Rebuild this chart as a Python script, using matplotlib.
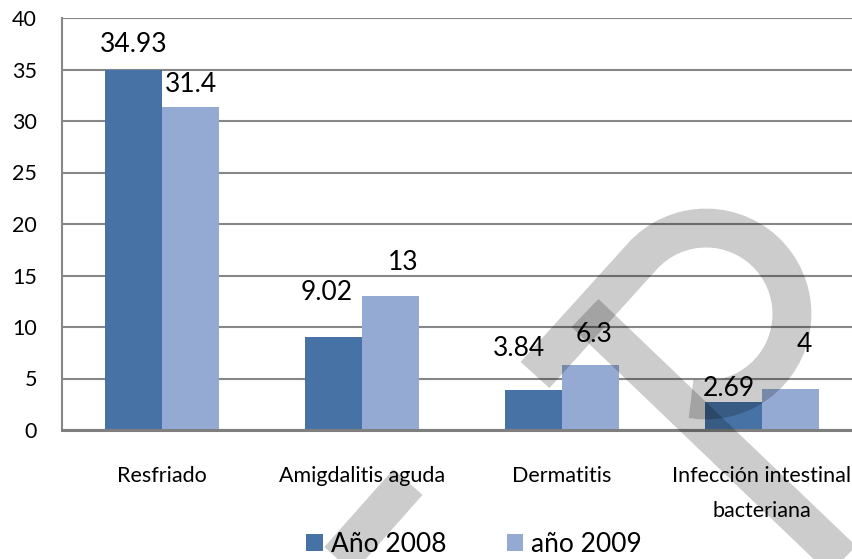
import matplotlib.pyplot as plt
import numpy as np
from matplotlib.path import Path
from matplotlib.patches import PathPatch
import matplotlib.transforms as mtransforms

plt.rcParams['font.family'] = ['Lato', 'DejaVu Sans']

# datos
categorias = ["Resfriado", "Amigdalitis aguda", "Dermatitis", "Infección intestinal\nbacteriana"]
anio_2008 = [34.93, 9.02, 3.84, 2.69]
anio_2009 = [31.4, 13, 6.3, 4]
series = ["Año 2008", "año 2009"]

# desplazamiento de las etiquetas (pixeles), como en el original
off_2008 = [(0, 26), (-7, 45), (-14, 42), (-5, 14)]
off_2009 = [(1, 22), (13, 34), (4, 31), (14, 44)]

c1 = "#4672A6"
c2 = "#95AAD2"
gris = "#878787"

fig = plt.figure(figsize=(8.53, 5.59), dpi=100)
W, H = 853, 559
ax = fig.add_axes([62 / W, 129 / H, 800 / W, 412 / H])

x = np.arange(len(categorias))
w = 0.285
b1 = ax.bar(x - w / 2, anio_2008, w, color=c1, label=series[0], zorder=2)
b2 = ax.bar(x + w / 2, anio_2009, w, color=c2, label=series[1], zorder=2)

for xi, v, o in zip(x - w / 2, anio_2008, off_2008):
    ax.annotate(f"{v:g}", (xi, v), xytext=o, textcoords="offset pixels",
                ha="center", va="center", fontsize=19, zorder=5)
for xi, v, o in zip(x + w / 2, anio_2009, off_2009):
    ax.annotate(f"{v:g}", (xi, v), xytext=o, textcoords="offset pixels",
                ha="center", va="center", fontsize=19, zorder=5)

ax.set_xlim(-0.5, 3.5)
ax.set_ylim(0, 40)
ax.set_yticks(range(0, 41, 5))
ax.set_xticks(x)
ax.set_xticklabels(categorias, fontsize=15.5, linespacing=1.9)
ax.tick_params(axis="y", length=0, pad=18, labelsize=15.5)
ax.tick_params(axis="x", length=0, pad=26)
ax.yaxis.grid(True, color=gris, linewidth=1.5, zorder=0)
ax.set_axisbelow(True)
for s in ["top", "right"]:
    ax.spines[s].set_visible(False)
ax.spines["left"].set_color(gris)
ax.spines["left"].set_linewidth(1.5)
ax.spines["bottom"].set_color("#7f7f7f")
ax.spines["bottom"].set_linewidth(2.2)

fig.legend(handles=[b1, b2], loc="center", bbox_to_anchor=(474 / W, 15 / H),
           ncol=2, frameon=False, fontsize=19, handlelength=0.62,
           handleheight=0.62, handletextpad=0.3, columnspacing=2.3,
           borderaxespad=0, borderpad=0)

# marca de agua (decoracion gris semitransparente)
def pt(px, py):
    return (px, H - py)

t = np.radians(np.linspace(-135, 100, 40))
arco = [pt(706 + 86 * np.cos(a), 314 + 86 * np.sin(a)) for a in t]
trazo1 = [pt(535, 375)] + arco
trazo2 = [pt(585, 313), pt(900, 615)]
trazo3 = [pt(408, 482), pt(330, 570)]
tr = mtransforms.IdentityTransform()
for tz in [trazo1, trazo2, trazo3]:
    codes = [Path.MOVETO] + [Path.LINETO] * (len(tz) - 1)
    fig.add_artist(PathPatch(Path(tz, codes), facecolor="none", edgecolor="black",
                             alpha=0.2, linewidth=28, capstyle="butt",
                             transform=tr, zorder=10))

plt.savefig("out.png", dpi=100)
